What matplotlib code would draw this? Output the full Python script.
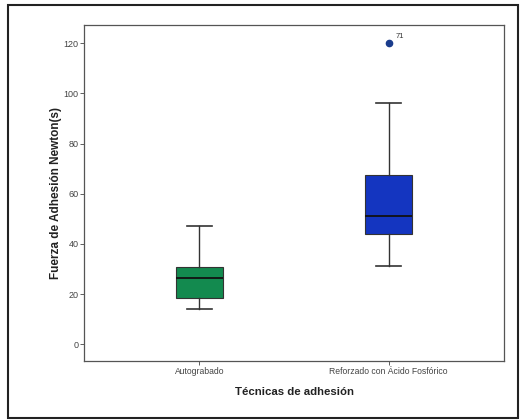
import matplotlib
matplotlib.use('Agg')
import matplotlib.pyplot as plt
from matplotlib.patches import Rectangle

categories = ['Autograbado', 'Reforzado con Ácido Fosfórico']
whisker_low = [14, 31]
q1 = [18.6, 44.1]
median = [26.4, 51.0]
q3 = [30.8, 67.6]
whisker_high = [47, 96.2]
outliers = [[], [120]]
outlier_labels = [[], ['71']]
box_colors = ['#138a4f', '#1435c0']

plt.rcParams['font.family'] = ['Liberation Sans', 'DejaVu Sans']

fig = plt.figure(figsize=(5.23, 4.2), dpi=100)
ax = fig.add_axes([0.1606, 0.1405, 0.8031, 0.8])

stats = []
for i in range(len(categories)):
    stats.append({'label': categories[i], 'whislo': whisker_low[i], 'q1': q1[i],
                  'med': median[i], 'q3': q3[i], 'whishi': whisker_high[i],
                  'fliers': outliers[i]})

bp = ax.bxp(stats, positions=[1, 2], widths=0.25, patch_artist=True,
            showfliers=True,
            boxprops=dict(linewidth=0.8, edgecolor='#333333'),
            medianprops=dict(color='#111111', linewidth=1.3),
            whiskerprops=dict(color='#333333', linewidth=1.0),
            capprops=dict(color='#333333', linewidth=1.2),
            capwidths=0.13,
            flierprops=dict(marker='o', markerfacecolor='#1a3c8c',
                            markeredgecolor='#1a3c8c', markersize=4.5))
for patch, c in zip(bp['boxes'], box_colors):
    patch.set_facecolor(c)

for i, labels in enumerate(outlier_labels):
    for val, lab in zip(outliers[i], labels):
        ax.annotate(lab, (i + 1, val), xytext=(5, 4), textcoords='offset points',
                    fontsize=5.5, color='#333333')

ax.set_xlim(0.39, 2.61)
ax.set_ylim(-6.7, 127.3)
ax.set_yticks([0, 20, 40, 60, 80, 100, 120])
ax.tick_params(axis='y', labelsize=6.5)
ax.tick_params(axis='x', labelsize=6.2)
ax.tick_params(axis='both', labelcolor='#444444', length=3,
               width=0.6, pad=1, color='#444444')
for s in ax.spines.values():
    s.set_linewidth(0.9)
    s.set_color('#555555')

ax.set_ylabel('Fuerza de Adhesión Newton(s)', fontsize=8.5, fontweight='bold',
              color='#222222')
ax.yaxis.set_label_coords(-0.052, 0.5)
ax.set_xlabel('Técnicas de adhesión', fontsize=8.2, fontweight='bold',
              color='#222222', labelpad=8)

fig.patches.append(Rectangle((8 / 523, 2 / 420), 510 / 523, 413 / 420,
                             transform=fig.transFigure, fill=False,
                             edgecolor='#222222', linewidth=1.5))

fig.savefig('out.png', dpi=100)
